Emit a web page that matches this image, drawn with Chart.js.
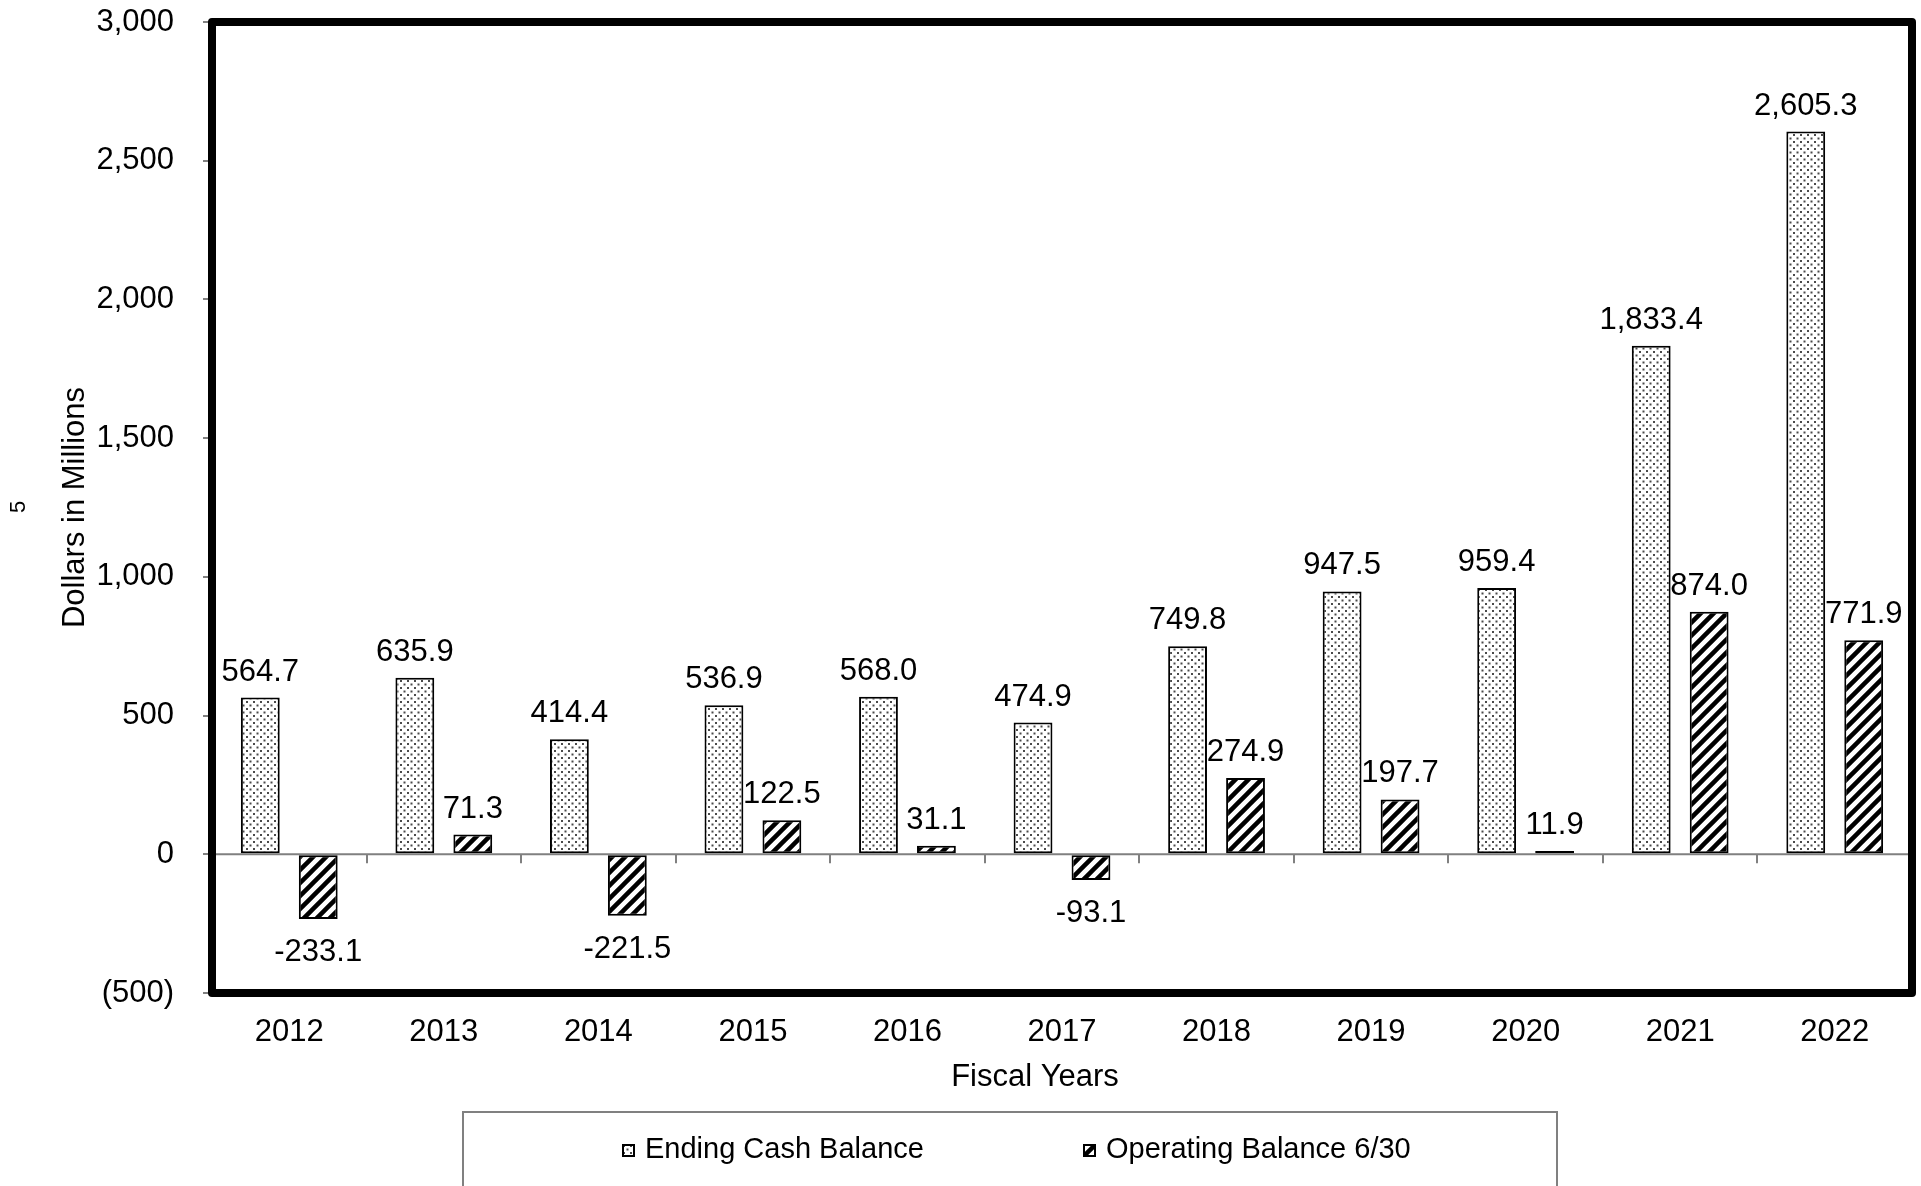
<!DOCTYPE html>
<html>
<head>
<meta charset="utf-8">
<script src="https://cdn.jsdelivr.net/npm/chart.js@4.4.1/dist/chart.umd.min.js"></script>
<style>
	body { margin: 0; background: #fff; }
	#wrap { position: relative; width: 1921px; height: 1186px; overflow: hidden; }
	#legend { position: absolute; left: 462px; top: 1111px; width: 1096px; height: 110px;
		border: 2px solid #808080; box-sizing: border-box; }
	.item { position: absolute; top: 19px; line-height: 34px; font: 29px "Liberation Sans", Arial, sans-serif; color: #000; white-space: nowrap; }
	.swatch { position: absolute; top: 31px; }
</style>
</head>
<body>
<div id="wrap">
	<canvas id="columnChart" width="1921" height="1186"></canvas>
	<div id="legend"></div>
</div>
<script>
// Data (millions of dollars)
const years = ['2012', '2013', '2014', '2015', '2016', '2017', '2018', '2019', '2020', '2021', '2022'];
const endingCash = [564.7, 635.9, 414.4, 536.9, 568.0, 474.9, 749.8, 947.5, 959.4, 1833.4, 2605.3];
const operatingBalance = [-233.1, 71.3, -221.5, 122.5, 31.1, -93.1, 274.9, 197.7, 11.9, 874.0, 771.9];
const seriesNames = ['Ending Cash Balance', 'Operating Balance 6/30'];
const yMin = -500;
const yMax = 3000;
const yStep = 500;

const FONT = '"Liberation Sans", Arial, sans-serif';

// Fill patterns: dots and upward diagonal hatch
function dotPattern(ctx) {
	const c = document.createElement('canvas');
	c.width = 7; c.height = 7;
	const g = c.getContext('2d');
	g.fillStyle = '#fff';
	g.fillRect(0, 0, 7, 7);
	g.fillStyle = '#4a4a4a';
	g.fillRect(1, 1, 2, 2);
	g.fillRect(4.5, 4.5, 2, 2);
	return ctx.createPattern(c, 'repeat');
}

function hatchPattern(ctx) {
	const s = 13;
	const c = document.createElement('canvas');
	c.width = s; c.height = s;
	const g = c.getContext('2d');
	g.fillStyle = '#fff';
	g.fillRect(0, 0, s, s);
	g.strokeStyle = '#000';
	g.lineWidth = 4.5;
	g.beginPath();
	g.moveTo(-1, s + 1); g.lineTo(s + 1, -1);
	g.moveTo(-3, 3); g.lineTo(3, -3);
	g.moveTo(s - 3, s + 3); g.lineTo(s + 3, s - 3);
	g.stroke();
	return ctx.createPattern(c, 'repeat');
}

const ctx = document.getElementById('columnChart').getContext('2d');
const fills = [dotPattern(ctx), hatchPattern(ctx)];

function fmtValue(v) {
	return v.toLocaleString('en-US', { minimumFractionDigits: 1, maximumFractionDigits: 1 });
}

// Zero line, small category ticks on it, the heavy frame, value labels
const decorations = {
	id: 'decorations',
	beforeDatasetsDraw(chart) {
		const { ctx, chartArea, scales } = chart;
		const y0 = scales.y.getPixelForValue(0);
		ctx.save();
		ctx.strokeStyle = '#808080';
		ctx.lineWidth = 2;
		ctx.beginPath();
		ctx.moveTo(chartArea.left, y0);
		ctx.lineTo(chartArea.right, y0);
		const step = scales.x.getPixelForValue(1) - scales.x.getPixelForValue(0);
		for (let i = 1; i < years.length; i++) {
			const x = Math.round(scales.x.getPixelForValue(i) - step / 2);
			ctx.moveTo(x, y0);
			ctx.lineTo(x, y0 + 9);
		}
		ctx.stroke();
		ctx.restore();
	},
	afterDatasetsDraw(chart) {
		const { ctx } = chart;
		ctx.save();
		ctx.font = '31px ' + FONT;
		ctx.fillStyle = '#000';
		ctx.textAlign = 'center';
		ctx.textBaseline = 'alphabetic';
		chart.data.datasets.forEach((ds, di) => {
			chart.getDatasetMeta(di).data.forEach((bar, i) => {
				const v = ds.data[i];
				const y = v >= 0 ? bar.y - 17 : bar.y + 42;
				ctx.fillText(fmtValue(v), bar.x, y);
			});
		});
		ctx.restore();
	},
	afterDraw(chart) {
		const { ctx, chartArea } = chart;
		ctx.save();
		ctx.strokeStyle = '#000';
		ctx.lineWidth = 8;
		ctx.lineJoin = 'round';
		ctx.strokeRect(chartArea.left, chartArea.top, chartArea.right - chartArea.left, chartArea.bottom - chartArea.top);
		ctx.fillStyle = '#000';
		ctx.textAlign = 'center';
		ctx.textBaseline = 'middle';
		// x axis title sits a little left of the plot centre in the original
		ctx.font = '31px ' + FONT;
		ctx.fillText('Fiscal Years', (chartArea.left + chartArea.right) / 2 - 27, 1077);
		// stray page number beside the axis title
		ctx.translate(19, 507);
		ctx.rotate(-Math.PI / 2);
		ctx.font = '22px ' + FONT;
		ctx.fillText('5', 0, 0);
		ctx.restore();
	}
};

const columnChart = new Chart(ctx, {
	type: 'bar',
	data: {
		labels: years,
		datasets: [{
			label: seriesNames[0],
			data: endingCash,
			backgroundColor: fills[0],
			borderColor: '#000',
			borderWidth: 2,
			borderSkipped: false
		}, {
			label: seriesNames[1],
			data: operatingBalance,
			backgroundColor: fills[1],
			borderColor: '#000',
			borderWidth: 2,
			borderSkipped: false
		}]
	},
	options: {
		responsive: false,
		animation: false,
		devicePixelRatio: 1,
		categoryPercentage: 0.75,
		barPercentage: 0.67,
		layout: { padding: { left: 55, top: 22, right: 9, bottom: 75 } },
		plugins: {
			legend: { display: false },
			tooltip: { enabled: false }
		},
		scales: {
			x: {
				grid: { display: false },
				border: { display: false },
				ticks: { color: '#000', font: { family: FONT, size: 31 }, padding: 13, maxRotation: 0 },
				afterFit: scale => { scale.height = 118; }
			},
			y: {
				min: yMin,
				max: yMax,
				ticks: {
					stepSize: yStep,
					color: '#000',
					font: { family: FONT, size: 31 },
					padding: 29,
					callback: function(value) {
						if (value < 0) return '(' + Math.abs(value).toLocaleString('en-US') + ')';
						return value.toLocaleString('en-US');
					}
				},
				grid: { drawOnChartArea: false, tickLength: 9, tickColor: '#808080', lineWidth: 2 },
				border: { display: false },
				title: { display: true, text: 'Dollars in Millions', color: '#000', font: { family: FONT, size: 31 }, padding: { top: 2, bottom: 0 } },
				afterFit: scale => {
					scale.width = 157;
					scale.paddingTop = 0;
					scale.paddingBottom = 0;
				}
			}
		}
	},
	plugins: [decorations]
});

// Legend below the chart, swatches filled with the same patterns
const legend = document.getElementById('legend');
const legendPos = [{ box: 158, text: 181 }, { box: 619, text: 642 }];
seriesNames.forEach((name, i) => {
	const sw = document.createElement('canvas');
	sw.width = 13; sw.height = 13;
	sw.className = 'swatch';
	sw.style.left = legendPos[i].box + 'px';
	const g = sw.getContext('2d');
	g.fillStyle = i === 0 ? dotPattern(g) : hatchPattern(g);
	g.fillRect(0, 0, 13, 13);
	g.strokeStyle = '#000';
	g.lineWidth = 2;
	g.strokeRect(1, 1, 11, 11);
	legend.appendChild(sw);
	const t = document.createElement('span');
	t.className = 'item';
	t.style.left = legendPos[i].text + 'px';
	t.textContent = name;
	legend.appendChild(t);
});
</script>
</body>
</html>
